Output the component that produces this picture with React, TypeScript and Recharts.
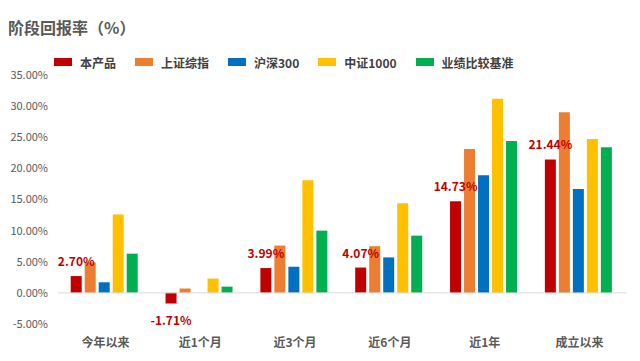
import React from 'react';
import { BarChart, Bar, XAxis, YAxis, ReferenceLine, LabelList } from 'recharts';

const categories = ['今年以来', '近1个月', '近3个月', '近6个月', '近1年', '成立以来'];
const product = [2.7, -1.71, 3.99, 4.07, 14.73, 21.44];
const shIndex = [4.9, 0.7, 7.6, 7.5, 23.1, 29.0];
const hs300 = [1.7, 0, 4.2, 5.7, 18.9, 16.7];
const zz1000 = [12.6, 2.3, 18.1, 14.4, 31.2, 24.7];
const benchmark = [6.3, 1.0, 10.0, 9.2, 24.4, 23.4];
const yTicks = [-5, 0, 5, 10, 15, 20, 25, 30, 35];

const series = [
  { key: 'product', name: '本产品', color: '#C00000', values: product },
  { key: 'sh', name: '上证综指', color: '#ED7D31', values: shIndex },
  { key: 'hs300', name: '沪深300', color: '#0070C0', values: hs300 },
  { key: 'zz1000', name: '中证1000', color: '#FFC000', values: zz1000 },
  { key: 'bench', name: '业绩比较基准', color: '#00B050', values: benchmark },
];

const data = categories.map((name, i) => {
  const row: Record<string, any> = { name };
  series.forEach((s) => {
    row[s.key] = s.values[i];
  });
  return row;
});

const FONT = "'Noto Sans CJK SC', 'Noto Sans', sans-serif";

// label above positive bars, below negative ones
const renderLabel = (props: any) => {
  const x = Number(props.x);
  const y = Number(props.y);
  const w = Number(props.width);
  const h = Number(props.height);
  const v = Number(props.value);
  const top = Math.min(y, y + h);
  const bottom = Math.max(y, y + h);
  const ty = v >= 0 ? top - 10 : bottom + 21;
  return (
    <text x={x + w / 2} y={ty} textAnchor="middle" fill="#C00000" fontSize={12} fontWeight="bold" fontFamily={FONT}>
      {v.toFixed(2)}%
    </text>
  );
};

export default function App() {
  return (
    <div style={{ position: 'absolute', left: 0, top: 0, width: 640, height: 361, background: '#fff', fontFamily: FONT }}>
      <div style={{ position: 'absolute', left: 8, top: 16, fontSize: 16, fontWeight: 'bold', color: '#595959', lineHeight: '22px' }}>
        阶段回报率（%）
      </div>
      <div style={{ position: 'absolute', left: 54, top: 53, display: 'flex', alignItems: 'center', height: 18 }}>
        {series.map((s) => (
          <div key={s.key} style={{ display: 'flex', alignItems: 'center', marginRight: 19 }}>
            <span style={{ width: 18, height: 8, background: s.color, display: 'inline-block', marginRight: 8 }} />
            <span style={{ fontSize: 12, fontWeight: 'bold', color: '#404040' }}>{s.name}</span>
          </div>
        ))}
      </div>
      <BarChart width={640} height={361} data={data} margin={{ top: 75, right: 13, left: 0, bottom: 7 }} barCategoryGap="13.4%" barGap={3}>
        <XAxis
          dataKey="name"
          axisLine={false}
          tickLine={false}
          tickMargin={8}
          tick={{ fill: '#595959', fontSize: 12, fontWeight: 'bold', fontFamily: FONT }}
        />
        <YAxis
          width={58}
          domain={[-5, 35]}
          ticks={yTicks}
          axisLine={false}
          tickLine={false}
          tickMargin={4}
          tickFormatter={(v: number) => `${v.toFixed(2)}%`}
          tick={{ fill: '#595959', fontSize: 11, fontFamily: FONT }}
        />
        <ReferenceLine y={0} stroke="#D9D9D9" strokeWidth={1} />
        {series.map((s) => (
          <Bar key={s.key} dataKey={s.key} name={s.name} fill={s.color} isAnimationActive={false}>
            {s.key === 'product' && <LabelList dataKey={s.key} content={renderLabel} />}
          </Bar>
        ))}
      </BarChart>
    </div>
  );
}
